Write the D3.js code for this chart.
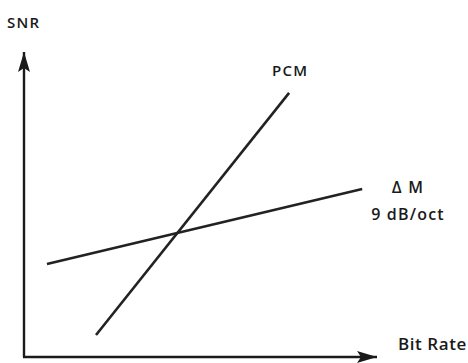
<!DOCTYPE html>
<html lang="en">
<head>
<meta charset="utf-8">
<title>SNR vs Bit Rate</title>
<script src="https://cdn.jsdelivr.net/npm/d3@7"></script>
<style>
  body { margin: 0; background: #fff; }
  .line { fill: none; stroke: #222; stroke-width: 2.6; stroke-linecap: butt; }
  .axis-line { stroke: #1a1a1a; stroke-width: 2.4; }
  text { font-family: "Open Sans", sans-serif; font-weight: 600; fill: #1a1a1a; letter-spacing: 1.2px; }
</style>
</head>
<body>
<script>
  // data (arbitrary units, axes have no ticks)
  var pcmX = [2.04, 7.51];
  var pcmY = [0.72, 8.66];
  var dmX = [0.65, 9.58];
  var dmY = [3.05, 5.51];
  var yTitle = "SNR";
  var xTitle = "Bit Rate";
  var pcmLabel = "PCM";
  var dmLabel = ["\u0394 M", "9 dB/oct"];

  var w = 468, h = 363;

  var xScale = d3.scaleLinear().domain([0, 10]).range([24, 377]);
  var yScale = d3.scaleLinear().domain([0, 10]).range([357, 52]);

  var svg = d3.select("body").append("svg")
    .attr("width", w)
    .attr("height", h);

  // arrow heads
  var defs = svg.append("defs");
  defs.append("marker")
    .attr("id", "arrow")
    .attr("viewBox", "0 0 20 12")
    .attr("refX", 20)
    .attr("refY", 6)
    .attr("markerWidth", 20)
    .attr("markerHeight", 12)
    .attr("markerUnits", "userSpaceOnUse")
    .attr("orient", "auto")
    .append("path")
    .attr("d", "M0,0 L20,6 L0,12 L4,6 Z")
    .attr("fill", "#1a1a1a");

  // axes
  svg.append("line")
    .attr("class", "axis-line")
    .attr("x1", xScale(0)).attr("y1", yScale(0))
    .attr("x2", xScale(0)).attr("y2", yScale(10))
    .attr("marker-end", "url(#arrow)");

  svg.append("line")
    .attr("class", "axis-line")
    .attr("x1", xScale(0) - 1).attr("y1", yScale(0))
    .attr("x2", xScale(10)).attr("y2", yScale(0))
    .attr("marker-end", "url(#arrow)");

  var line = d3.line()
    .x(function(d) { return xScale(d[0]); })
    .y(function(d) { return yScale(d[1]); });

  svg.append("path")
    .datum(d3.zip(pcmX, pcmY))
    .attr("class", "line")
    .attr("d", line);

  svg.append("path")
    .datum(d3.zip(dmX, dmY))
    .attr("class", "line")
    .attr("d", line);

  // labels
  svg.append("text")
    .attr("x", 7).attr("y", 28)
    .style("font-size", "15px")
    .text(yTitle);

  svg.append("text")
    .attr("x", 467).attr("y", 350)
    .attr("text-anchor", "end")
    .style("font-size", "17px")
    .style("letter-spacing", "0.6px")
    .text(xTitle);

  svg.append("text")
    .attr("x", xScale(pcmX[1]) + 1).attr("y", 76)
    .attr("text-anchor", "middle")
    .style("font-size", "15px")
    .text(pcmLabel);

  svg.append("text")
    .attr("x", 408).attr("y", 193)
    .attr("text-anchor", "middle")
    .style("font-size", "16px")
    .text(dmLabel[0]);

  svg.append("text")
    .attr("x", 408).attr("y", 220)
    .attr("text-anchor", "middle")
    .style("font-size", "16px")
    .text(dmLabel[1]);
</script>
</body>
</html>
